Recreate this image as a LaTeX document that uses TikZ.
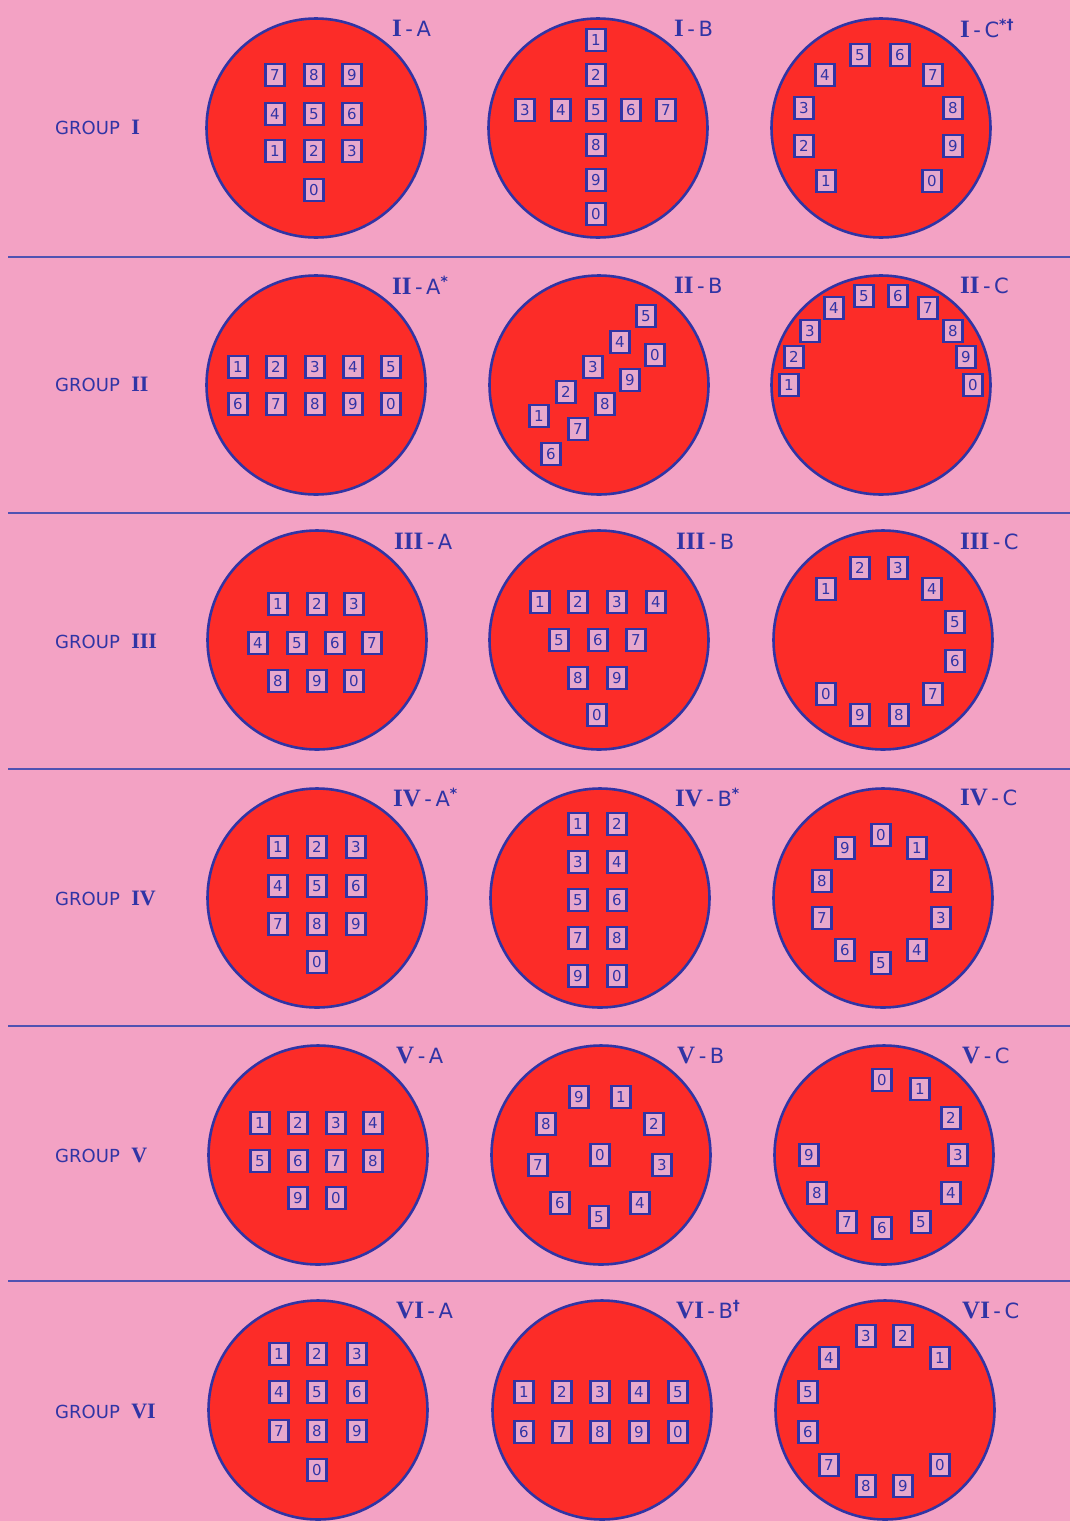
\documentclass[tikz,border=0pt]{standalone}
\usepackage{fontspec}
\usepackage{tikz}
\usetikzlibrary{positioning}
\newfontfamily\lettering{DejaVu Sans}
\newfontfamily\numeral{Liberation Serif}
\definecolor{paper}{RGB}{243,162,196}
\definecolor{platered}{RGB}{252,44,40}
\definecolor{plateblue}{RGB}{48,52,165}
\definecolor{keypink}{RGB}{232,168,204}
\newcommand{\keyfont}{\lettering\fontsize{15}{15}\selectfont}
\newcommand{\tagfont}{\lettering\fontsize{21}{21}\selectfont}
\newcommand{\grpfont}{\lettering\fontsize{18}{18}\selectfont}
\newcommand{\tagrn}[1]{{\numeral\bfseries\fontsize{25}{25}\selectfont #1}}
\newcommand{\grprn}[1]{{\numeral\bfseries\fontsize{22}{22}\selectfont #1}}
\newcommand{\notemark}[1]{\raisebox{8pt}{\fontsize{14}{14}\selectfont\bfseries #1}}

\begin{document}
\begin{tikzpicture}[x=1pt,y=-1pt,
  disc/.style={circle,draw=plateblue,line width=2.6pt,fill=platered,minimum size=219pt,inner sep=0pt},
  key/.style={draw=plateblue,line width=2.2pt,fill=keypink,minimum width=19pt,minimum height=22pt,
              inner sep=0pt,font=\keyfont,text=plateblue},
  tag/.style={anchor=west,font=\tagfont,text=plateblue,inner sep=0pt},
  grp/.style={anchor=west,font=\grpfont,text=plateblue,inner sep=0pt},
  rule/.style={draw=plateblue!85,line width=1.6pt}]
  \useasboundingbox (0,0) rectangle (1070,1521);
  \fill[paper] (0,0) rectangle (1070,1521);
  % separators
  \draw[rule] (8,257) -- (1070,257);
  \draw[rule] (8,513) -- (1070,513);
  \draw[rule] (8,769) -- (1070,769);
  \draw[rule] (8,1026) -- (1070,1026);
  \draw[rule] (8,1281) -- (1070,1281);
  % group I
  \node[grp] (g1) at (55,127) {GROUP\ \ \grprn{I}};
  \node[disc] (ia) at (316,128) {}; \node[disc] (ib) at (598,128) {}; \node[disc] (ic) at (881,128) {};
  \node[tag] (tia) at (392,28) {\tagrn{I}\,-\,A};
  \node[tag] (tib) at (674,28) {\tagrn{I}\,-\,B};
  \node[tag] (tic) at (960,28) {\tagrn{I}\,-\,C\notemark{*\textdagger}};
  \node[key] (ia7) at (275,75) {7}; \node[key] (ia8) at (314,75) {8}; \node[key] (ia9) at (352,75) {9};
  \node[key] (ia4) at (275,114) {4}; \node[key] (ia5) at (314,114) {5}; \node[key] (ia6) at (352,114) {6};
  \node[key] (ia1) at (275,151) {1}; \node[key] (ia2) at (314,151) {2}; \node[key] (ia3) at (352,151) {3};
  \node[key] (ia0) at (314,190) {0};
  \node[key] (ib1) at (596,40) {1}; \node[key] (ib2) at (596,75) {2};
  \node[key] (ib3) at (525,110) {3}; \node[key] (ib4) at (561,110) {4}; \node[key] (ib5) at (596,110) {5};
  \node[key] (ib6) at (631,110) {6}; \node[key] (ib7) at (666,110) {7};
  \node[key] (ib8) at (596,145) {8}; \node[key] (ib9) at (596,180) {9}; \node[key] (ib0) at (596,214) {0};
  \node[key] (ic5) at (860,55) {5}; \node[key] (ic6) at (900,55) {6}; \node[key] (ic7) at (933,75) {7};
  \node[key] (ic8) at (953,108) {8}; \node[key] (ic9) at (953,146) {9}; \node[key] (ic0) at (932,181) {0};
  \node[key] (ic1) at (826,181) {1}; \node[key] (ic2) at (804,146) {2}; \node[key] (ic3) at (804,108) {3};
  \node[key] (ic4) at (825,75) {4};
  % group II
  \node[grp] (g2) at (55,384) {GROUP\ \ \grprn{II}};
  \node[disc] (iia) at (316,385) {}; \node[disc] (iib) at (599,385) {}; \node[disc] (iic) at (881,385) {};
  \node[tag] (tiia) at (392,285) {\tagrn{II}\,-\,A\notemark{*}};
  \node[tag] (tiib) at (674,285) {\tagrn{II}\,-\,B};
  \node[tag] (tiic) at (960,285) {\tagrn{II}\,-\,C};
  \node[key] (iia1) at (238,367) {1}; \node[key] (iia2) at (276,367) {2}; \node[key] (iia3) at (315,367) {3};
  \node[key] (iia4) at (353,367) {4}; \node[key] (iia5) at (391,367) {5};
  \node[key] (iia6) at (238,404) {6}; \node[key] (iia7) at (276,404) {7}; \node[key] (iia8) at (315,404) {8};
  \node[key] (iia9) at (353,404) {9}; \node[key] (iia0) at (391,404) {0};
  \node[key] (iib5) at (646,316) {5}; \node[key] (iib4) at (620,342) {4}; \node[key] (iib0) at (655,355) {0};
  \node[key] (iib3) at (593,367) {3}; \node[key] (iib9) at (630,380) {9}; \node[key] (iib2) at (566,392) {2};
  \node[key] (iib8) at (605,404) {8}; \node[key] (iib1) at (539,416) {1}; \node[key] (iib7) at (578,429) {7};
  \node[key] (iib6) at (551,454) {6};
  \node[key] (iic5) at (864,296) {5}; \node[key] (iic6) at (898,296) {6}; \node[key] (iic4) at (834,308) {4};
  \node[key] (iic7) at (928,308) {7}; \node[key] (iic3) at (810,331) {3}; \node[key] (iic8) at (953,331) {8};
  \node[key] (iic2) at (794,357) {2}; \node[key] (iic9) at (966,357) {9}; \node[key] (iic1) at (789,385) {1};
  \node[key] (iic0) at (973,385) {0};
  % group III
  \node[grp] (g3) at (55,641) {GROUP\ \ \grprn{III}};
  \node[disc] (iiia) at (317,640) {}; \node[disc] (iiib) at (599,640) {}; \node[disc] (iiic) at (883,640) {};
  \node[tag] (tiiia) at (394,541) {\tagrn{III}\,-\,A};
  \node[tag] (tiiib) at (676,541) {\tagrn{III}\,-\,B};
  \node[tag] (tiiic) at (960,541) {\tagrn{III}\,-\,C};
  \node[key] (iiia1) at (278,604) {1}; \node[key] (iiia2) at (317,604) {2}; \node[key] (iiia3) at (354,604) {3};
  \node[key] (iiia4) at (258,643) {4}; \node[key] (iiia5) at (297,643) {5}; \node[key] (iiia6) at (335,643) {6};
  \node[key] (iiia7) at (372,643) {7};
  \node[key] (iiia8) at (278,681) {8}; \node[key] (iiia9) at (317,681) {9}; \node[key] (iiia0) at (354,681) {0};
  \node[key] (iiib1) at (540,602) {1}; \node[key] (iiib2) at (578,602) {2}; \node[key] (iiib3) at (617,602) {3};
  \node[key] (iiib4) at (656,602) {4};
  \node[key] (iiib5) at (559,640) {5}; \node[key] (iiib6) at (598,640) {6}; \node[key] (iiib7) at (636,640) {7};
  \node[key] (iiib8) at (578,678) {8}; \node[key] (iiib9) at (617,678) {9}; \node[key] (iiib0) at (597,715) {0};
  \node[key] (iiic1) at (826,589) {1}; \node[key] (iiic2) at (860,568) {2}; \node[key] (iiic3) at (898,568) {3};
  \node[key] (iiic4) at (932,589) {4}; \node[key] (iiic5) at (955,622) {5}; \node[key] (iiic6) at (955,661) {6};
  \node[key] (iiic7) at (933,694) {7}; \node[key] (iiic8) at (899,715) {8}; \node[key] (iiic9) at (860,715) {9};
  \node[key] (iiic0) at (826,694) {0};
  % group IV
  \node[grp] (g4) at (55,898) {GROUP\ \ \grprn{IV}};
  \node[disc] (iva) at (317,898) {}; \node[disc] (ivb) at (600,898) {}; \node[disc] (ivc) at (883,898) {};
  \node[tag] (tiva) at (393,797) {\tagrn{IV}\,-\,A\notemark{*}};
  \node[tag] (tivb) at (675,797) {\tagrn{IV}\,-\,B\notemark{*}};
  \node[tag] (tivc) at (960,797) {\tagrn{IV}\,-\,C};
  \node[key] (iva1) at (278,847) {1}; \node[key] (iva2) at (317,847) {2}; \node[key] (iva3) at (356,847) {3};
  \node[key] (iva4) at (278,886) {4}; \node[key] (iva5) at (317,886) {5}; \node[key] (iva6) at (356,886) {6};
  \node[key] (iva7) at (278,924) {7}; \node[key] (iva8) at (317,924) {8}; \node[key] (iva9) at (356,924) {9};
  \node[key] (iva0) at (317,962) {0};
  \node[key] (ivb1) at (578,824) {1}; \node[key] (ivb2) at (617,824) {2};
  \node[key] (ivb3) at (578,862) {3}; \node[key] (ivb4) at (617,862) {4};
  \node[key] (ivb5) at (578,900) {5}; \node[key] (ivb6) at (617,900) {6};
  \node[key] (ivb7) at (578,938) {7}; \node[key] (ivb8) at (617,938) {8};
  \node[key] (ivb9) at (578,976) {9}; \node[key] (ivb0) at (617,976) {0};
  \node[key] (ivc0) at (881,835) {0}; \node[key] (ivc1) at (917,848) {1}; \node[key] (ivc2) at (941,881) {2};
  \node[key] (ivc3) at (941,918) {3}; \node[key] (ivc4) at (917,950) {4}; \node[key] (ivc5) at (881,963) {5};
  \node[key] (ivc6) at (845,950) {6}; \node[key] (ivc7) at (822,918) {7}; \node[key] (ivc8) at (822,881) {8};
  \node[key] (ivc9) at (845,848) {9};
  % group V
  \node[grp] (g5) at (55,1155) {GROUP\ \ \grprn{V}};
  \node[disc] (va) at (318,1155) {}; \node[disc] (vb) at (601,1155) {}; \node[disc] (vc) at (884,1155) {};
  \node[tag] (tva) at (396,1055) {\tagrn{V}\,-\,A};
  \node[tag] (tvb) at (677,1055) {\tagrn{V}\,-\,B};
  \node[tag] (tvc) at (962,1055) {\tagrn{V}\,-\,C};
  \node[key] (va1) at (260,1123) {1}; \node[key] (va2) at (298,1123) {2}; \node[key] (va3) at (336,1123) {3};
  \node[key] (va4) at (373,1123) {4};
  \node[key] (va5) at (260,1161) {5}; \node[key] (va6) at (298,1161) {6}; \node[key] (va7) at (336,1161) {7};
  \node[key] (va8) at (373,1161) {8};
  \node[key] (va9) at (298,1198) {9}; \node[key] (va0) at (336,1198) {0};
  \node[key] (vb9) at (579,1097) {9}; \node[key] (vb1) at (621,1097) {1}; \node[key] (vb2) at (654,1124) {2};
  \node[key] (vb3) at (662,1165) {3}; \node[key] (vb4) at (640,1203) {4}; \node[key] (vb5) at (599,1217) {5};
  \node[key] (vb6) at (560,1203) {6}; \node[key] (vb7) at (538,1165) {7}; \node[key] (vb8) at (546,1124) {8};
  \node[key] (vb0) at (600,1155) {0};
  \node[key] (vc0) at (882,1080) {0}; \node[key] (vc1) at (920,1089) {1}; \node[key] (vc2) at (951,1118) {2};
  \node[key] (vc3) at (958,1155) {3}; \node[key] (vc4) at (951,1193) {4}; \node[key] (vc5) at (921,1222) {5};
  \node[key] (vc6) at (882,1228) {6}; \node[key] (vc7) at (847,1222) {7}; \node[key] (vc8) at (817,1193) {8};
  \node[key] (vc9) at (809,1155) {9};
  % group VI
  \node[grp] (g6) at (55,1411) {GROUP\ \ \grprn{VI}};
  \node[disc] (via) at (318,1410) {}; \node[disc] (vib) at (602,1410) {}; \node[disc] (vic) at (885,1410) {};
  \node[tag] (tvia) at (396,1310) {\tagrn{VI}\,-\,A};
  \node[tag] (tvib) at (676,1310) {\tagrn{VI}\,-\,B\notemark{\textdagger}};
  \node[tag] (tvic) at (962,1310) {\tagrn{VI}\,-\,C};
  \node[key] (via1) at (279,1354) {1}; \node[key] (via2) at (317,1354) {2}; \node[key] (via3) at (357,1354) {3};
  \node[key] (via4) at (279,1392) {4}; \node[key] (via5) at (317,1392) {5}; \node[key] (via6) at (357,1392) {6};
  \node[key] (via7) at (279,1431) {7}; \node[key] (via8) at (317,1431) {8}; \node[key] (via9) at (357,1431) {9};
  \node[key] (via0) at (317,1470) {0};
  \node[key] (vib1) at (524,1392) {1}; \node[key] (vib2) at (562,1392) {2}; \node[key] (vib3) at (600,1392) {3};
  \node[key] (vib4) at (639,1392) {4}; \node[key] (vib5) at (678,1392) {5};
  \node[key] (vib6) at (524,1432) {6}; \node[key] (vib7) at (562,1432) {7}; \node[key] (vib8) at (600,1432) {8};
  \node[key] (vib9) at (639,1432) {9}; \node[key] (vib0) at (678,1432) {0};
  \node[key] (vic3) at (866,1336) {3}; \node[key] (vic2) at (903,1336) {2}; \node[key] (vic1) at (940,1358) {1};
  \node[key] (vic4) at (829,1358) {4}; \node[key] (vic5) at (808,1392) {5}; \node[key] (vic6) at (808,1432) {6};
  \node[key] (vic7) at (829,1465) {7}; \node[key] (vic8) at (866,1486) {8}; \node[key] (vic9) at (903,1486) {9};
  \node[key] (vic0) at (940,1465) {0};
\end{tikzpicture}
\end{document}
